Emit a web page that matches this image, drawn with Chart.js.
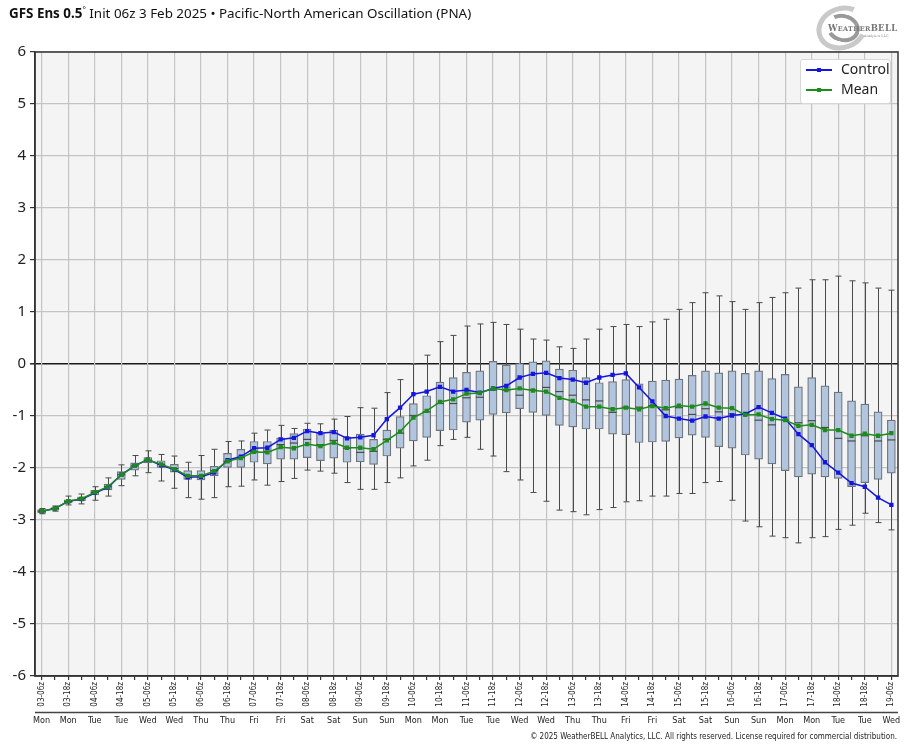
<!DOCTYPE html>
<html>
<head>
<meta charset="utf-8">
<script src="https://cdn.jsdelivr.net/npm/chart.js@4.4.1/dist/chart.umd.min.js"></script>
<style>
  html,body{margin:0;padding:0;background:#fff;}
  #wrap{position:relative;width:914px;height:750px;overflow:hidden;}
  #title{position:absolute;left:9px;top:4px;font-family:"Noto Sans",sans-serif;font-size:13.4px;color:#111;white-space:nowrap;}
  #title b{font-weight:700;}
  #title sup{font-size:8px;vertical-align:5px;}
  #copy{position:absolute;right:17px;top:732px;font-family:"DejaVu Sans Condensed","DejaVu Sans",sans-serif;font-size:8px;color:#222;white-space:nowrap;}
  #legend{position:absolute;left:800px;top:59px;width:89px;height:43px;background:#fff;border:1px solid #d8d8d8;border-radius:3px;font-family:"Noto Sans",sans-serif;font-size:14px;color:#222;}
  .lrow{position:absolute;left:0;height:20px;width:89px;}
  .lline{position:absolute;left:5px;top:9px;width:26px;height:1.5px;}
  .lmark{position:absolute;left:16px;top:7.5px;width:4px;height:4px;}
  .ltext{position:absolute;left:40px;top:-1px;line-height:20px;}
  #logo{position:absolute;left:812px;top:4px;width:90px;height:48px;}
  #swirl1{position:absolute;left:4px;top:2px;width:52px;height:44px;border-radius:50%;border:5px solid #c9c9c9;border-right-color:transparent;box-sizing:border-box;transform:rotate(-20deg);}
  #swirl2{position:absolute;left:14px;top:10px;width:34px;height:28px;border-radius:50%;border:4px solid #9a9a9a;border-left-color:transparent;box-sizing:border-box;transform:rotate(15deg);}
  #logotext{position:absolute;left:16px;top:19px;font-family:"DejaVu Serif",serif;font-size:8.5px;font-weight:700;color:#777;letter-spacing:0.3px;white-space:nowrap;}
  #logosub{position:absolute;left:52px;top:30px;font-family:"DejaVu Serif",serif;font-size:3.5px;color:#888;white-space:nowrap;}
</style>
</head>
<body>
<div id="wrap">
  <canvas id="c" width="914" height="750"></canvas>
  <div id="title"><b>GFS Ens 0.5</b><sup>°</sup> Init 06z 3 Feb 2025 • Pacific-North American Oscillation (PNA)</div>
  <div id="logo"><div id="swirl1"></div><div id="swirl2"></div><div id="logotext">W<span style="font-size:6.5px">EATHER</span>BELL</div><div id="logosub">Analytics LLC</div></div>
  <div id="legend">
    <div class="lrow" style="top:0px;"><div class="lline" style="background:#1515e0"></div><div class="lmark" style="background:#1515e0"></div><div class="ltext">Control</div></div>
    <div class="lrow" style="top:20px;"><div class="lline" style="background:#1c8c1c"></div><div class="lmark" style="background:#1c8c1c"></div><div class="ltext">Mean</div></div>
  </div>
  <div id="copy">© 2025 WeatherBELL Analytics, LLC. All rights reserved. License required for commercial distribution.</div>
</div>
<script>
// ---- categories ----
const timeLabels = [
 '03-06z','03-12z','03-18z','04-00z',
 '04-06z','04-12z','04-18z','05-00z',
 '05-06z','05-12z','05-18z','06-00z',
 '06-06z','06-12z','06-18z','07-00z',
 '07-06z','07-12z','07-18z','08-00z',
 '08-06z','08-12z','08-18z','09-00z',
 '09-06z','09-12z','09-18z','10-00z',
 '10-06z','10-12z','10-18z','11-00z',
 '11-06z','11-12z','11-18z','12-00z',
 '12-06z','12-12z','12-18z','13-00z',
 '13-06z','13-12z','13-18z','14-00z',
 '14-06z','14-12z','14-18z','15-00z',
 '15-06z','15-12z','15-18z','16-00z',
 '16-06z','16-12z','16-18z','17-00z',
 '17-06z','17-12z','17-18z','18-00z',
 '18-06z','18-12z','18-18z','19-00z',
 '19-06z'];
const dayLabels = [
 'Mon','Mon','Mon','Tue',
 'Tue','Tue','Tue','Wed',
 'Wed','Wed','Wed','Thu',
 'Thu','Thu','Thu','Fri',
 'Fri','Fri','Fri','Sat',
 'Sat','Sat','Sat','Sun',
 'Sun','Sun','Sun','Mon',
 'Mon','Mon','Mon','Tue',
 'Tue','Tue','Tue','Wed',
 'Wed','Wed','Wed','Thu',
 'Thu','Thu','Thu','Fri',
 'Fri','Fri','Fri','Sat',
 'Sat','Sat','Sat','Sun',
 'Sun','Sun','Sun','Mon',
 'Mon','Mon','Mon','Tue',
 'Tue','Tue','Tue','Wed',
 'Wed'];
const yTicks = [-6,-5,-4,-3,-2,-1,0,1,2,3,4,5,6];

// ---- series ----
const controlRun = [
 -2.83,-2.78,-2.64,-2.60,-2.48,-2.37,-2.13,-1.96,-1.84,-1.95,
 -2.03,-2.18,-2.17,-2.09,-1.85,-1.78,-1.62,-1.61,-1.45,-1.42,
 -1.29,-1.33,-1.31,-1.43,-1.41,-1.37,-1.06,-0.84,-0.58,-0.53,
 -0.44,-0.53,-0.50,-0.55,-0.47,-0.42,-0.26,-0.19,-0.17,-0.27,
 -0.30,-0.36,-0.26,-0.21,-0.18,-0.45,-0.72,-1.00,-1.05,-1.09,
 -1.01,-1.05,-0.99,-0.96,-0.83,-0.94,-1.05,-1.35,-1.56,-1.89,
 -2.09,-2.29,-2.36,-2.57,-2.71];
const ensMean = [
 -2.83,-2.78,-2.64,-2.59,-2.47,-2.36,-2.13,-1.96,-1.84,-1.93,
 -2.02,-2.15,-2.15,-2.06,-1.87,-1.81,-1.69,-1.70,-1.60,-1.62,
 -1.54,-1.58,-1.51,-1.61,-1.61,-1.64,-1.47,-1.30,-1.03,-0.90,
 -0.73,-0.68,-0.57,-0.56,-0.47,-0.50,-0.47,-0.51,-0.53,-0.65,
 -0.71,-0.82,-0.82,-0.87,-0.84,-0.87,-0.81,-0.85,-0.80,-0.82,
 -0.76,-0.84,-0.85,-0.98,-0.97,-1.06,-1.08,-1.19,-1.17,-1.27,
 -1.27,-1.38,-1.34,-1.38,-1.33];
const ensMin = [
 -2.88,-2.83,-2.71,-2.69,-2.62,-2.54,-2.34,-2.15,-2.09,-2.25,
 -2.39,-2.57,-2.60,-2.57,-2.36,-2.35,-2.23,-2.33,-2.26,-2.20,
 -2.04,-2.06,-2.10,-2.28,-2.41,-2.41,-2.28,-2.19,-1.96,-1.85,
 -1.57,-1.45,-1.41,-1.64,-1.77,-2.07,-2.23,-2.47,-2.64,-2.81,
 -2.84,-2.90,-2.80,-2.76,-2.65,-2.63,-2.54,-2.54,-2.49,-2.49,
 -2.28,-2.26,-2.62,-3.02,-3.13,-3.31,-3.34,-3.44,-3.34,-3.32,
 -3.18,-3.10,-2.87,-3.05,-3.19];
const ensQ1 = [
 -2.86,-2.81,-2.67,-2.63,-2.52,-2.42,-2.22,-2.04,-1.90,-1.99,
 -2.08,-2.22,-2.23,-2.15,-1.99,-1.99,-1.89,-1.92,-1.83,-1.83,
 -1.80,-1.86,-1.81,-1.89,-1.88,-1.93,-1.77,-1.62,-1.48,-1.41,
 -1.28,-1.27,-1.12,-1.08,-0.97,-0.94,-0.86,-0.93,-0.99,-1.18,
 -1.21,-1.25,-1.25,-1.35,-1.36,-1.51,-1.50,-1.49,-1.42,-1.37,
 -1.41,-1.59,-1.62,-1.75,-1.83,-1.92,-2.05,-2.17,-2.12,-2.17,
 -2.20,-2.36,-2.28,-2.22,-2.10];
const ensMedian = [
 -2.83,-2.78,-2.64,-2.59,-2.47,-2.36,-2.13,-1.96,-1.85,-1.93,
 -2.01,-2.14,-2.15,-2.05,-1.87,-1.80,-1.68,-1.68,-1.55,-1.52,
 -1.45,-1.55,-1.47,-1.62,-1.70,-1.68,-1.45,-1.33,-0.99,-0.92,
 -0.76,-0.76,-0.65,-0.64,-0.50,-0.50,-0.60,-0.50,-0.45,-0.53,
 -0.60,-0.69,-0.71,-0.93,-0.83,-0.83,-0.80,-0.88,-0.84,-0.97,
 -0.86,-0.92,-0.96,-0.96,-1.08,-1.17,-1.08,-1.13,-1.09,-1.22,
 -1.43,-1.48,-1.38,-1.48,-1.46];
const ensQ3 = [
 -2.80,-2.76,-2.61,-2.56,-2.43,-2.31,-2.07,-1.90,-1.80,-1.86,
 -1.93,-2.05,-2.05,-1.97,-1.72,-1.64,-1.49,-1.49,-1.42,-1.34,
 -1.25,-1.33,-1.27,-1.40,-1.35,-1.45,-1.27,-1.01,-0.76,-0.61,
 -0.35,-0.26,-0.16,-0.13,0.05,-0.02,0.01,0.04,0.06,-0.10,
 -0.12,-0.26,-0.36,-0.34,-0.30,-0.38,-0.33,-0.31,-0.29,-0.22,
 -0.13,-0.17,-0.13,-0.18,-0.13,-0.28,-0.20,-0.44,-0.26,-0.42,
 -0.54,-0.71,-0.77,-0.92,-1.08];
const ensMax = [
 -2.78,-2.73,-2.54,-2.50,-2.36,-2.19,-1.94,-1.76,-1.67,-1.74,
 -1.77,-1.89,-1.76,-1.64,-1.49,-1.48,-1.33,-1.27,-1.18,-1.24,
 -1.14,-1.15,-1.06,-1.01,-0.84,-0.85,-0.55,-0.30,0.00,0.17,
 0.43,0.55,0.73,0.77,0.80,0.76,0.67,0.48,0.46,0.33,
 0.30,0.48,0.67,0.72,0.76,0.72,0.81,0.86,1.05,1.18,
 1.37,1.31,1.20,1.05,1.18,1.28,1.37,1.46,1.62,1.62,
 1.69,1.60,1.56,1.46,1.42];

const boxRanges = ensQ1.map((q, i) => [q, ensQ3[i]]);

const BOX_W = 8;
const boxPlugin = {
  id: 'boxWhiskers',
  beforeDraw(chart) {
    const {ctx, chartArea: a} = chart;
    ctx.save();
    ctx.fillStyle = '#f4f4f4';
    ctx.fillRect(a.left, a.top, a.right - a.left, a.bottom - a.top);
    ctx.restore();
  },
  beforeDatasetsDraw(chart) {
    const {ctx, chartArea: a} = chart;
    const xs = chart.scales.x, ys = chart.scales.y;
    ctx.save();
    ctx.beginPath(); ctx.rect(a.left, a.top, a.right - a.left, a.bottom - a.top); ctx.clip();
    ctx.strokeStyle = '#4a4a4a';
    ctx.lineWidth = 1;
    for (let i = 0; i < ensMin.length; i++) {
      const px = Math.round(xs.getPixelForValue(i)) + 0.5;
      const y0 = ys.getPixelForValue(ensMin[i]);
      const y1 = ys.getPixelForValue(ensMax[i]);
      ctx.beginPath();
      ctx.moveTo(px, y0); ctx.lineTo(px, y1);
      ctx.moveTo(px - 3, y0); ctx.lineTo(px + 3, y0);
      ctx.moveTo(px - 3, y1); ctx.lineTo(px + 3, y1);
      ctx.stroke();
    }
    ctx.restore();
  },
  afterDatasetDraw(chart, args) {
    if (args.index !== 2) return;
    const {ctx} = chart;
    const xs = chart.scales.x, ys = chart.scales.y;
    ctx.save();
    ctx.strokeStyle = '#4a4a4a';
    ctx.lineWidth = 1.2;
    for (let i = 0; i < ensMedian.length; i++) {
      const px = xs.getPixelForValue(i);
      const py = ys.getPixelForValue(ensMedian[i]);
      ctx.beginPath();
      ctx.moveTo(px - BOX_W / 2, py); ctx.lineTo(px + BOX_W / 2, py);
      ctx.stroke();
    }
    ctx.restore();
  },
  afterDraw(chart) {
    const {ctx, chartArea: a} = chart;
    const x2 = chart.scales.x2;
    ctx.save();
    ctx.strokeStyle = '#333';
    ctx.lineWidth = 1.5;
    ctx.strokeRect(a.left, a.top, a.right - a.left, a.bottom - a.top);
    ctx.strokeStyle = '#444';
    ctx.lineWidth = 1.5;
    ctx.beginPath();
    ctx.moveTo(x2.left, Math.round(x2.top) + 0.5);
    ctx.lineTo(x2.right, Math.round(x2.top) + 0.5);
    ctx.stroke();
    ctx.restore();
  }
};

const condensed = '"DejaVu Sans Condensed","DejaVu Sans",sans-serif';

new Chart(document.getElementById('c'), {
  type: 'bar',
  data: {
    labels: timeLabels,
    datasets: [
      {
        type: 'line', label: 'Mean', data: ensMean, order: 1,
        borderColor: '#1c8c1c', backgroundColor: '#1c8c1c', borderWidth: 1.5,
        pointStyle: 'rect', pointRadius: 2, pointHoverRadius: 2, tension: 0
      },
      {
        type: 'line', label: 'Control', data: controlRun, order: 2,
        borderColor: '#1515e0', backgroundColor: '#1515e0', borderWidth: 1.5,
        pointStyle: 'rect', pointRadius: 2, pointHoverRadius: 2, tension: 0
      },
      {
        type: 'bar', label: 'Ensemble', data: boxRanges, order: 3,
        backgroundColor: '#b2c5df', borderColor: '#6e747a', borderWidth: 1.2,
        borderSkipped: false, barThickness: BOX_W
      }
    ]
  },
  options: {
    responsive: false, animation: false, devicePixelRatio: 1,
    layout: {padding: {top: 52, right: 16, bottom: 20, left: 0}},
    plugins: {legend: {display: false}, tooltip: {enabled: false}, title: {display: false}},
    scales: {
      y: {
        min: -6, max: 6,
        afterBuildTicks: (s) => { s.ticks = yTicks.map(v => ({value: v})); },
        afterFit: (s) => { s.width = 35; },
        ticks: {color: '#222', font: {family: '"Noto Sans",sans-serif', size: 15}, padding: 4},
        grid: {
          color: (c) => (c.tick && c.tick.value === 0) ? '#1a1a1a' : '#c4c4c4',
          lineWidth: (c) => (c.tick && c.tick.value === 0) ? 1.6 : 1.2,
          tickColor: '#333', tickLength: 5
        },
        border: {color: '#333', width: 1.5}
      },
      x: {
        offset: true,
        afterFit: (s) => { s.height = 36; },
        ticks: {
          autoSkip: false, maxRotation: 90, minRotation: 90, padding: 2,
          color: '#222', font: {family: condensed, size: 8},
          callback: function(v, i) { return i % 2 === 0 ? this.getLabelForValue(v) : ''; }
        },
        grid: {
          offset: false,
          color: (c) => (c.index % 2 === 0) ? '#c4c4c4' : 'rgba(0,0,0,0)',
          lineWidth: 1.2,
          tickColor: '#333', tickLength: 4
        },
        border: {color: '#333', width: 1.5}
      },
      x2: {
        type: 'category', position: 'bottom', offset: true, labels: dayLabels,
        afterFit: (s) => { s.height = 18; },
        ticks: {
          autoSkip: false, maxRotation: 0, minRotation: 0, padding: 3,
          color: '#222', font: {family: condensed, size: 9},
          callback: function(v, i) { return i % 2 === 0 ? dayLabels[i] : ''; }
        },
        grid: {display: false, drawOnChartArea: false, drawTicks: false, tickLength: 0},
        border: {display: false}
      }
    }
  },
  plugins: [boxPlugin]
});
</script>
</body>
</html>
